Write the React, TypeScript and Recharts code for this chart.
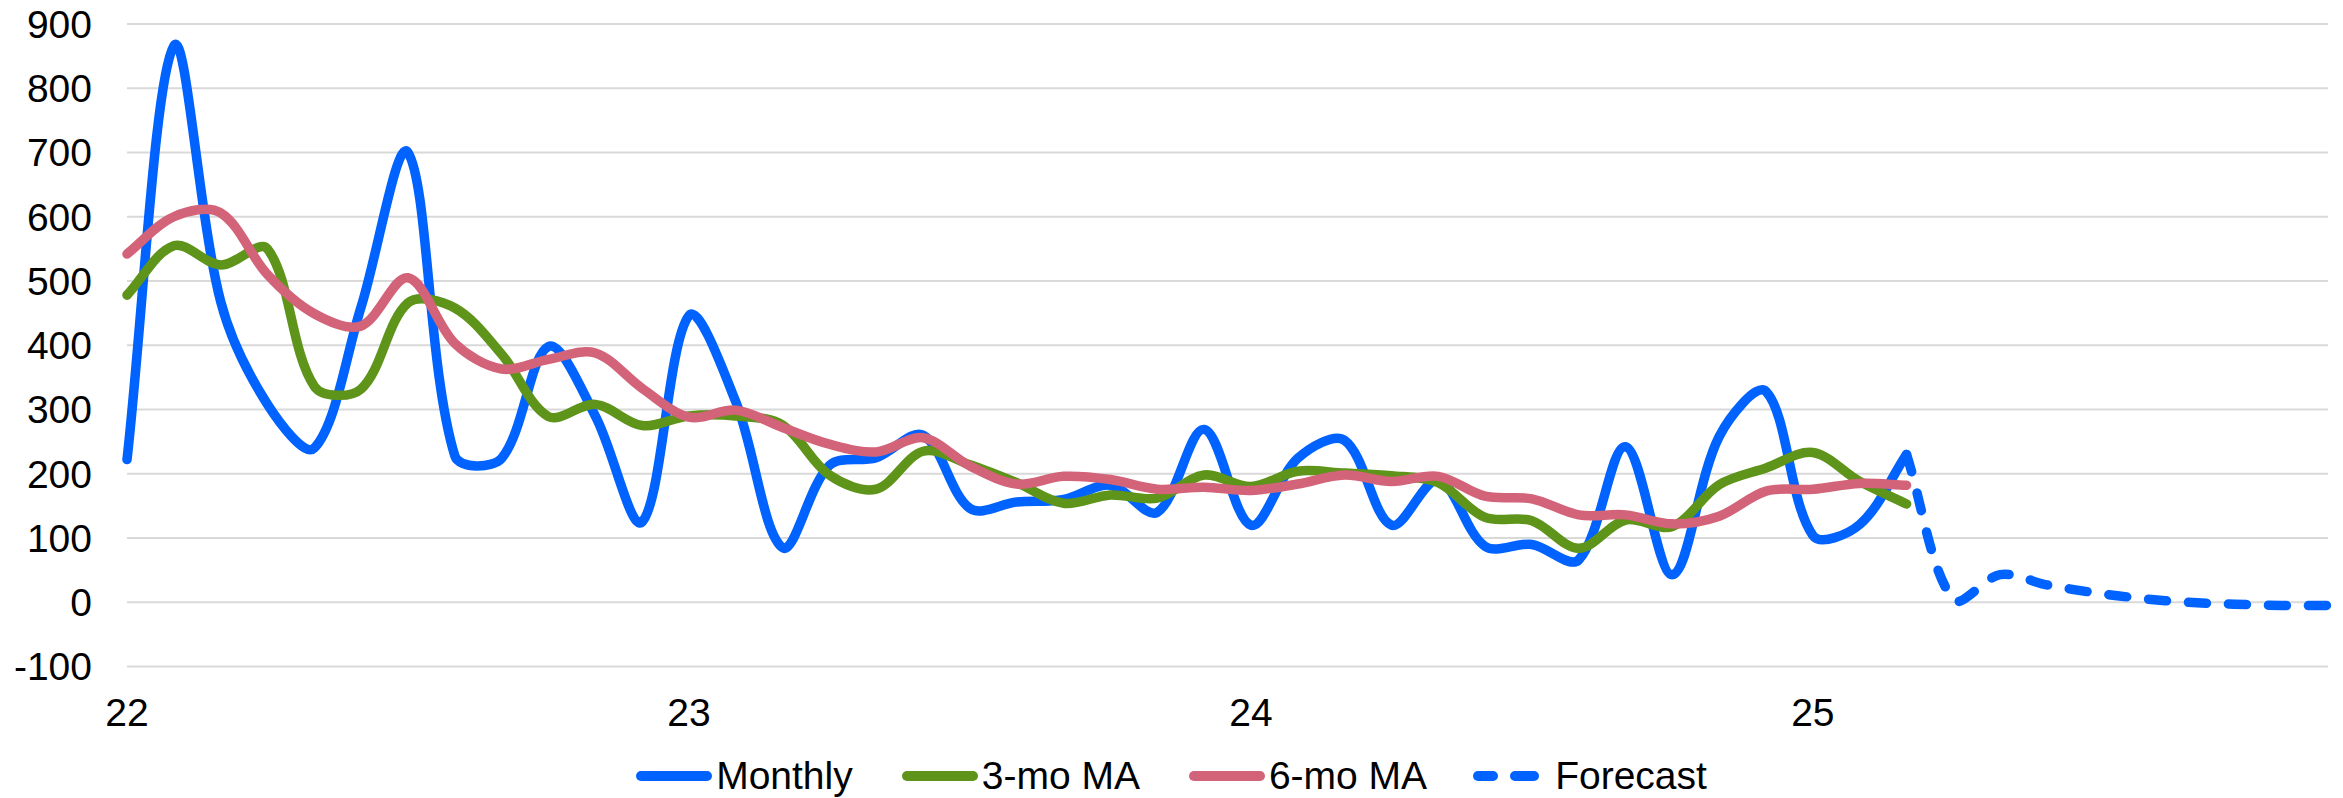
import React from 'react';
import { LineChart, Line, XAxis, YAxis, CartesianGrid, Legend } from 'recharts';

// ---------- data ----------
const YEARS = ['22', '23', '24', '25'];
const MONTH_NAMES = ['Jan', 'Feb', 'Mar', 'Apr', 'May', 'Jun', 'Jul', 'Aug', 'Sep', 'Oct', 'Nov', 'Dec'];
const categories: string[] = YEARS.flatMap((y) => MONTH_NAMES.map((m) => `${m} ${y}`));

const monthly = [
  222, 866, 468, 308, 240, 460, 700, 228, 224, 398,
  290, 125, 446, 312, 85, 213, 225, 260, 146, 156,
  160, 182, 140, 269, 120, 224, 252, 120, 190, 87,
  90, 66, 242, 43, 258, 328, 104, 121, 230,
];
const ma3 = [
  478, 555, 525, 550, 336, 332, 466, 458, 386, 289,
  308, 275, 290, 290, 276, 198, 176, 235, 214, 186,
  154, 167, 162, 198, 180, 204, 201, 197, 186, 132,
  127, 84, 128, 118, 183, 209, 233, 188, 153,
];
const ma6 = [
  542, 600, 606, 510, 449, 430, 505, 403, 363, 378,
  388, 333, 288, 299, 272, 246, 234, 256, 212, 184,
  196, 191, 176, 179, 174, 184, 198, 188, 196, 165,
  161, 136, 136, 122, 134, 173, 176, 185, 182,
];
const FORECAST_START = 38;
const forecast = [230, 4, 43, 27, 15, 6, 0, -3, -5, -5];

const yTicks = [-100, 0, 100, 200, 300, 400, 500, 600, 700, 800, 900];
const legendNames = ['Monthly', '3-mo MA', '6-mo MA', 'Forecast'];

// ---------- styles ----------
const BLUE = '#0062FF';
const GREEN = '#5E941A';
const PINK = '#D36378';
const GRID = '#D9D9D9';
const FONT = '"Liberation Sans", Arial, Helvetica, sans-serif';
const FS = 39;
const LW = 9.5;

const data = categories.map((month, i) => ({
  month,
  monthly: i < monthly.length ? monthly[i] : null,
  ma3: i < ma3.length ? ma3[i] : null,
  ma6: i < ma6.length ? ma6[i] : null,
  forecast: i >= FORECAST_START && i - FORECAST_START < forecast.length ? forecast[i - FORECAST_START] : null,
}));

// Excel-like smoothed curve (chord-weighted cardinal spline)
function smoothCurve(context: any) {
  let pts: number[][] = [];
  const f = 1 / 3;
  const dist = (a: number[], b: number[]) => Math.hypot(b[0] - a[0], b[1] - a[1]);
  return {
    areaStart() {},
    areaEnd() {},
    lineStart() {
      pts = [];
    },
    point(x: number, y: number) {
      pts.push([+x, +y]);
    },
    lineEnd() {
      const n = pts.length;
      if (!n) return;
      context.moveTo(pts[0][0], pts[0][1]);
      if (n === 2) context.lineTo(pts[1][0], pts[1][1]);
      if (n > 2) {
        const outC: number[][] = [];
        const inC: number[][] = [];
        for (let i = 0; i < n; i++) {
          const p = pts[i];
          const prev = i > 0 ? pts[i - 1] : p;
          const next = i < n - 1 ? pts[i + 1] : p;
          const dPrev = dist(prev, p);
          const dNext = dist(p, next);
          const tot = dPrev + dNext || 1;
          const tx = next[0] - prev[0];
          const ty = next[1] - prev[1];
          outC[i] = [p[0] + (tx * f * dNext) / tot, p[1] + (ty * f * dNext) / tot];
          inC[i] = [p[0] - (tx * f * dPrev) / tot, p[1] - (ty * f * dPrev) / tot];
        }
        for (let i = 0; i < n - 1; i++) {
          context.bezierCurveTo(outC[i][0], outC[i][1], inC[i + 1][0], inC[i + 1][1], pts[i + 1][0], pts[i + 1][1]);
        }
      }
    },
  };
}

const yearTick = (value: string) => {
  const i = categories.indexOf(value);
  return i % 12 === 0 ? YEARS[i / 12] : '';
};

const legendColors = [BLUE, GREEN, PINK, BLUE];

const renderLegend = () => (
  <div
    style={{
      height: 40,
      display: 'flex',
      justifyContent: 'center',
      alignItems: 'center',
      fontFamily: FONT,
      fontSize: FS,
      color: '#000',
      lineHeight: '40px',
    }}
  >
    {legendNames.map((name, k) => {
      const dashed = k === 3;
      return (
        <div key={name} style={{ display: 'flex', alignItems: 'center', marginRight: k < 3 ? (k === 2 ? 46 : 49) : 0 }}>
          {dashed ? (
            <svg width={82} height={14} style={{ display: 'block' }}>
              <line x1={5} y1={7} x2={20} y2={7} stroke={legendColors[k]} strokeWidth={10} strokeLinecap="round" />
              <line x1={42} y1={7} x2={61} y2={7} stroke={legendColors[k]} strokeWidth={10} strokeLinecap="round" />
            </svg>
          ) : (
            <svg width={80} height={14} style={{ display: 'block' }}>
              <line x1={5} y1={7} x2={71} y2={7} stroke={legendColors[k]} strokeWidth={10} strokeLinecap="round" />
            </svg>
          )}
          <span style={{ whiteSpace: 'nowrap' }}>{name}</span>
        </div>
      );
    })}
  </div>
);

export default function App() {
  return (
    <div style={{ position: 'absolute', left: 0, top: 0, width: 2343, height: 798, background: '#fff', fontFamily: FONT }}>
      <LineChart width={2343} height={798} data={data} margin={{ top: 24, right: 15, bottom: 0, left: 0 }}>
        <CartesianGrid vertical={false} stroke={GRID} strokeWidth={2} />
        <XAxis
          dataKey="month"
          interval={0}
          axisLine={false}
          tickLine={false}
          height={91.5}
          tickMargin={25.5}
          tickFormatter={yearTick}
          tick={{ fontSize: FS, fill: '#000', fontFamily: FONT }}
        />
        <YAxis
          domain={[-100, 900]}
          ticks={yTicks}
          interval={0}
          axisLine={false}
          tickLine={false}
          width={127}
          tickMargin={29}
          tick={{ fontSize: FS, fill: '#000', fontFamily: FONT }}
        />
        <Legend
          verticalAlign="bottom"
          content={renderLegend}
          wrapperStyle={{ left: 0, width: 2343, bottom: 2, height: 40 }}
        />
        <Line dataKey="monthly" name="Monthly" type={smoothCurve as any} stroke={BLUE} strokeWidth={LW} strokeLinecap="round" strokeLinejoin="round" dot={false} activeDot={false} isAnimationActive={false} />
        <Line dataKey="ma3" name="3-mo MA" type={smoothCurve as any} stroke={GREEN} strokeWidth={LW} strokeLinecap="round" strokeLinejoin="round" dot={false} activeDot={false} isAnimationActive={false} />
        <Line dataKey="ma6" name="6-mo MA" type={smoothCurve as any} stroke={PINK} strokeWidth={LW} strokeLinecap="round" strokeLinejoin="round" dot={false} activeDot={false} isAnimationActive={false} />
        <Line dataKey="forecast" name="Forecast" type={smoothCurve as any} stroke={BLUE} strokeWidth={LW} strokeDasharray="18 22" strokeLinecap="round" strokeLinejoin="round" dot={false} activeDot={false} isAnimationActive={false} />
      </LineChart>
    </div>
  );
}
